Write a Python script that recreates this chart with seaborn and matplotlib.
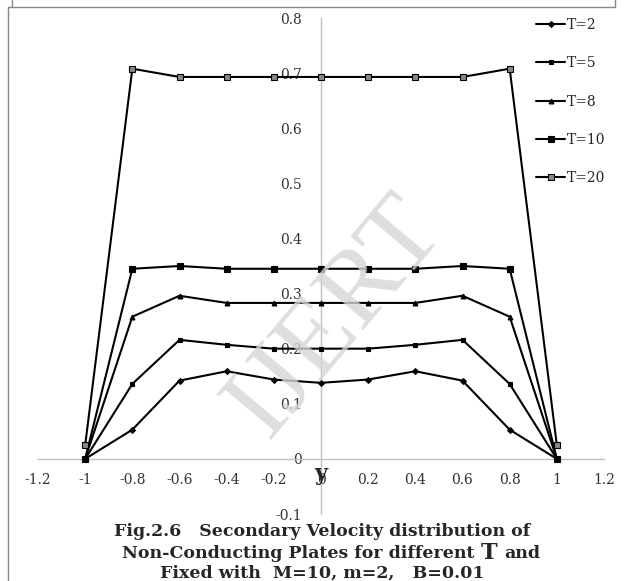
import numpy as np
import pandas as pd
import matplotlib
matplotlib.use("Agg")
import matplotlib.pyplot as plt
from matplotlib.lines import Line2D
import seaborn as sns

# ---- data ----
y_pos = [-1.0, -0.8, -0.6, -0.4, -0.2, 0.0, 0.2, 0.4, 0.6, 0.8, 1.0]
T2 = [0.0, 0.053, 0.142, 0.159, 0.144, 0.138, 0.144, 0.159, 0.142, 0.053, 0.0]
T5 = [0.0, 0.136, 0.216, 0.207, 0.200, 0.200, 0.200, 0.207, 0.216, 0.136, 0.0]
T8 = [0.0, 0.258, 0.296, 0.283, 0.283, 0.283, 0.283, 0.283, 0.296, 0.258, 0.0]
T10 = [0.0, 0.345, 0.350, 0.345, 0.345, 0.345, 0.345, 0.345, 0.350, 0.345, 0.0]
T20 = [0.025, 0.708, 0.693, 0.693, 0.693, 0.693, 0.693, 0.693, 0.693, 0.708, 0.025]
series_labels = ["T=2", "T=5", "T=8", "T=10", "T=20"]
x_ticks = [-1.2, -1.0, -0.8, -0.6, -0.4, -0.2, 0.0, 0.2, 0.4, 0.6, 0.8, 1.0, 1.2]
x_tick_labels = ["-1.2", "-1", "-0.8", "-0.6", "-0.4", "-0.2", "0", "0.2", "0.4", "0.6", "0.8", "1", "1.2"]
y_ticks = [-0.1, 0.0, 0.1, 0.2, 0.3, 0.4, 0.5, 0.6, 0.7, 0.8]
y_tick_labels = ["-0.1", "0", "0.1", "0.2", "0.3", "0.4", "0.5", "0.6", "0.7", "0.8"]
caption_l1 = "Fig.2.6   Secondary Velocity distribution of"
caption_l2a = "Non-Conducting Plates for different"
caption_l2b = "T"
caption_l2c = "and"
caption_l3 = "Fixed with  M=10, m=2,   B=0.01"

sns.set_style("white")
plt.rcParams["font.family"] = ["DejaVu Serif", "Liberation Serif"]
plt.rcParams["axes.unicode_minus"] = False

W, H = 626, 581
fig = plt.figure(figsize=(W / 100, H / 100), dpi=100)
ax = fig.add_axes([38 / W, 1 - 514 / H, (604 - 38) / W, (514 - 18) / H])

# watermark
fig.text(336 / W, 1 - 318 / H, "IJERT", rotation=50, fontsize=78, color="#d6d6d6",
         family="Liberation Serif", ha="center", va="center", alpha=0.8, zorder=0)

styles = [
    dict(marker="D", markersize=3, mfc="black"),
    dict(marker="s", markersize=3.5, mfc="black"),
    dict(marker="^", markersize=3.5, mfc="black"),
    dict(marker="s", markersize=5, mfc="black"),
    dict(marker="s", markersize=5, mfc="#888888"),
]
all_series = [T2, T5, T8, T10, T20]
for vals, lab, st in zip(all_series, series_labels, styles):
    df = pd.DataFrame({"y": y_pos, "v": vals})
    sns.lineplot(data=df, x="y", y="v", ax=ax, color="black", linewidth=1.5,
                 marker=st["marker"], markersize=st["markersize"],
                 markerfacecolor=st["mfc"], markeredgecolor="black",
                 markeredgewidth=0.8, label=lab, sort=False, zorder=3)

ax.set_xlim(-1.2, 1.2)
ax.set_ylim(-0.1, 0.8)
ax.set_xticks(x_ticks)
ax.set_xticklabels(x_tick_labels)
ax.set_yticks(y_ticks)
ax.set_yticklabels(y_tick_labels)
ax.spines["left"].set_position(("data", 0))
ax.spines["bottom"].set_position(("data", 0))
ax.spines["top"].set_visible(False)
ax.spines["right"].set_visible(False)
for s in ("left", "bottom"):
    ax.spines[s].set_color("#c0c0c0")
    ax.spines[s].set_linewidth(1.0)
ax.tick_params(axis="both", colors="#c0c0c0", labelcolor="#333333", labelsize=10,
               length=5, width=1, direction="out")
ax.tick_params(axis="y", pad=9)
ax.tick_params(axis="x", pad=5)
ax.set_xlabel("")
ax.set_ylabel("")
ax.patch.set_alpha(0)
ax.text(0.0, -0.027, "y", fontsize=16, fontweight="bold", ha="center", va="center",
        zorder=5)

leg = ax.legend(loc="upper left", bbox_to_anchor=(536 / W, 1 - 18 / H),
                bbox_transform=fig.transFigure, frameon=False, fontsize=10,
                handlelength=2.1, handletextpad=0.1, labelspacing=1.75,
                borderpad=0, borderaxespad=0)

# caption
cap_fs = 12.5
fig.text(322 / W, 1 - 531 / H, caption_l1, ha="center", va="center",
         fontsize=cap_fs, fontweight="bold")
fig.text(474 / W, 1 - 553 / H, caption_l2a, ha="right", va="center",
         fontsize=cap_fs, fontweight="bold")
fig.text(489 / W, 1 - 553 / H, caption_l2b, ha="center", va="center",
         fontsize=16, fontweight="bold")
fig.text(504 / W, 1 - 553 / H, caption_l2c, ha="left", va="center",
         fontsize=cap_fs, fontweight="bold")
fig.text(322 / W, 1 - 573 / H, caption_l3, ha="center", va="center",
         fontsize=cap_fs, fontweight="bold")

# page frame lines
gray = "#888888"
fig.add_artist(Line2D([8 / W, 8 / W], [0, 1 - 7 / H], color=gray, lw=1, transform=fig.transFigure))
fig.add_artist(Line2D([8 / W, 615 / W], [1 - 7 / H, 1 - 7 / H], color=gray, lw=1, transform=fig.transFigure))
fig.add_artist(Line2D([12 / W, 12 / W], [1 - 7 / H, 1], color=gray, lw=1, transform=fig.transFigure))
fig.add_artist(Line2D([615 / W, 615 / W], [1 - 7 / H, 1], color=gray, lw=1, transform=fig.transFigure))

fig.savefig("out.png", dpi=100, facecolor="white")
